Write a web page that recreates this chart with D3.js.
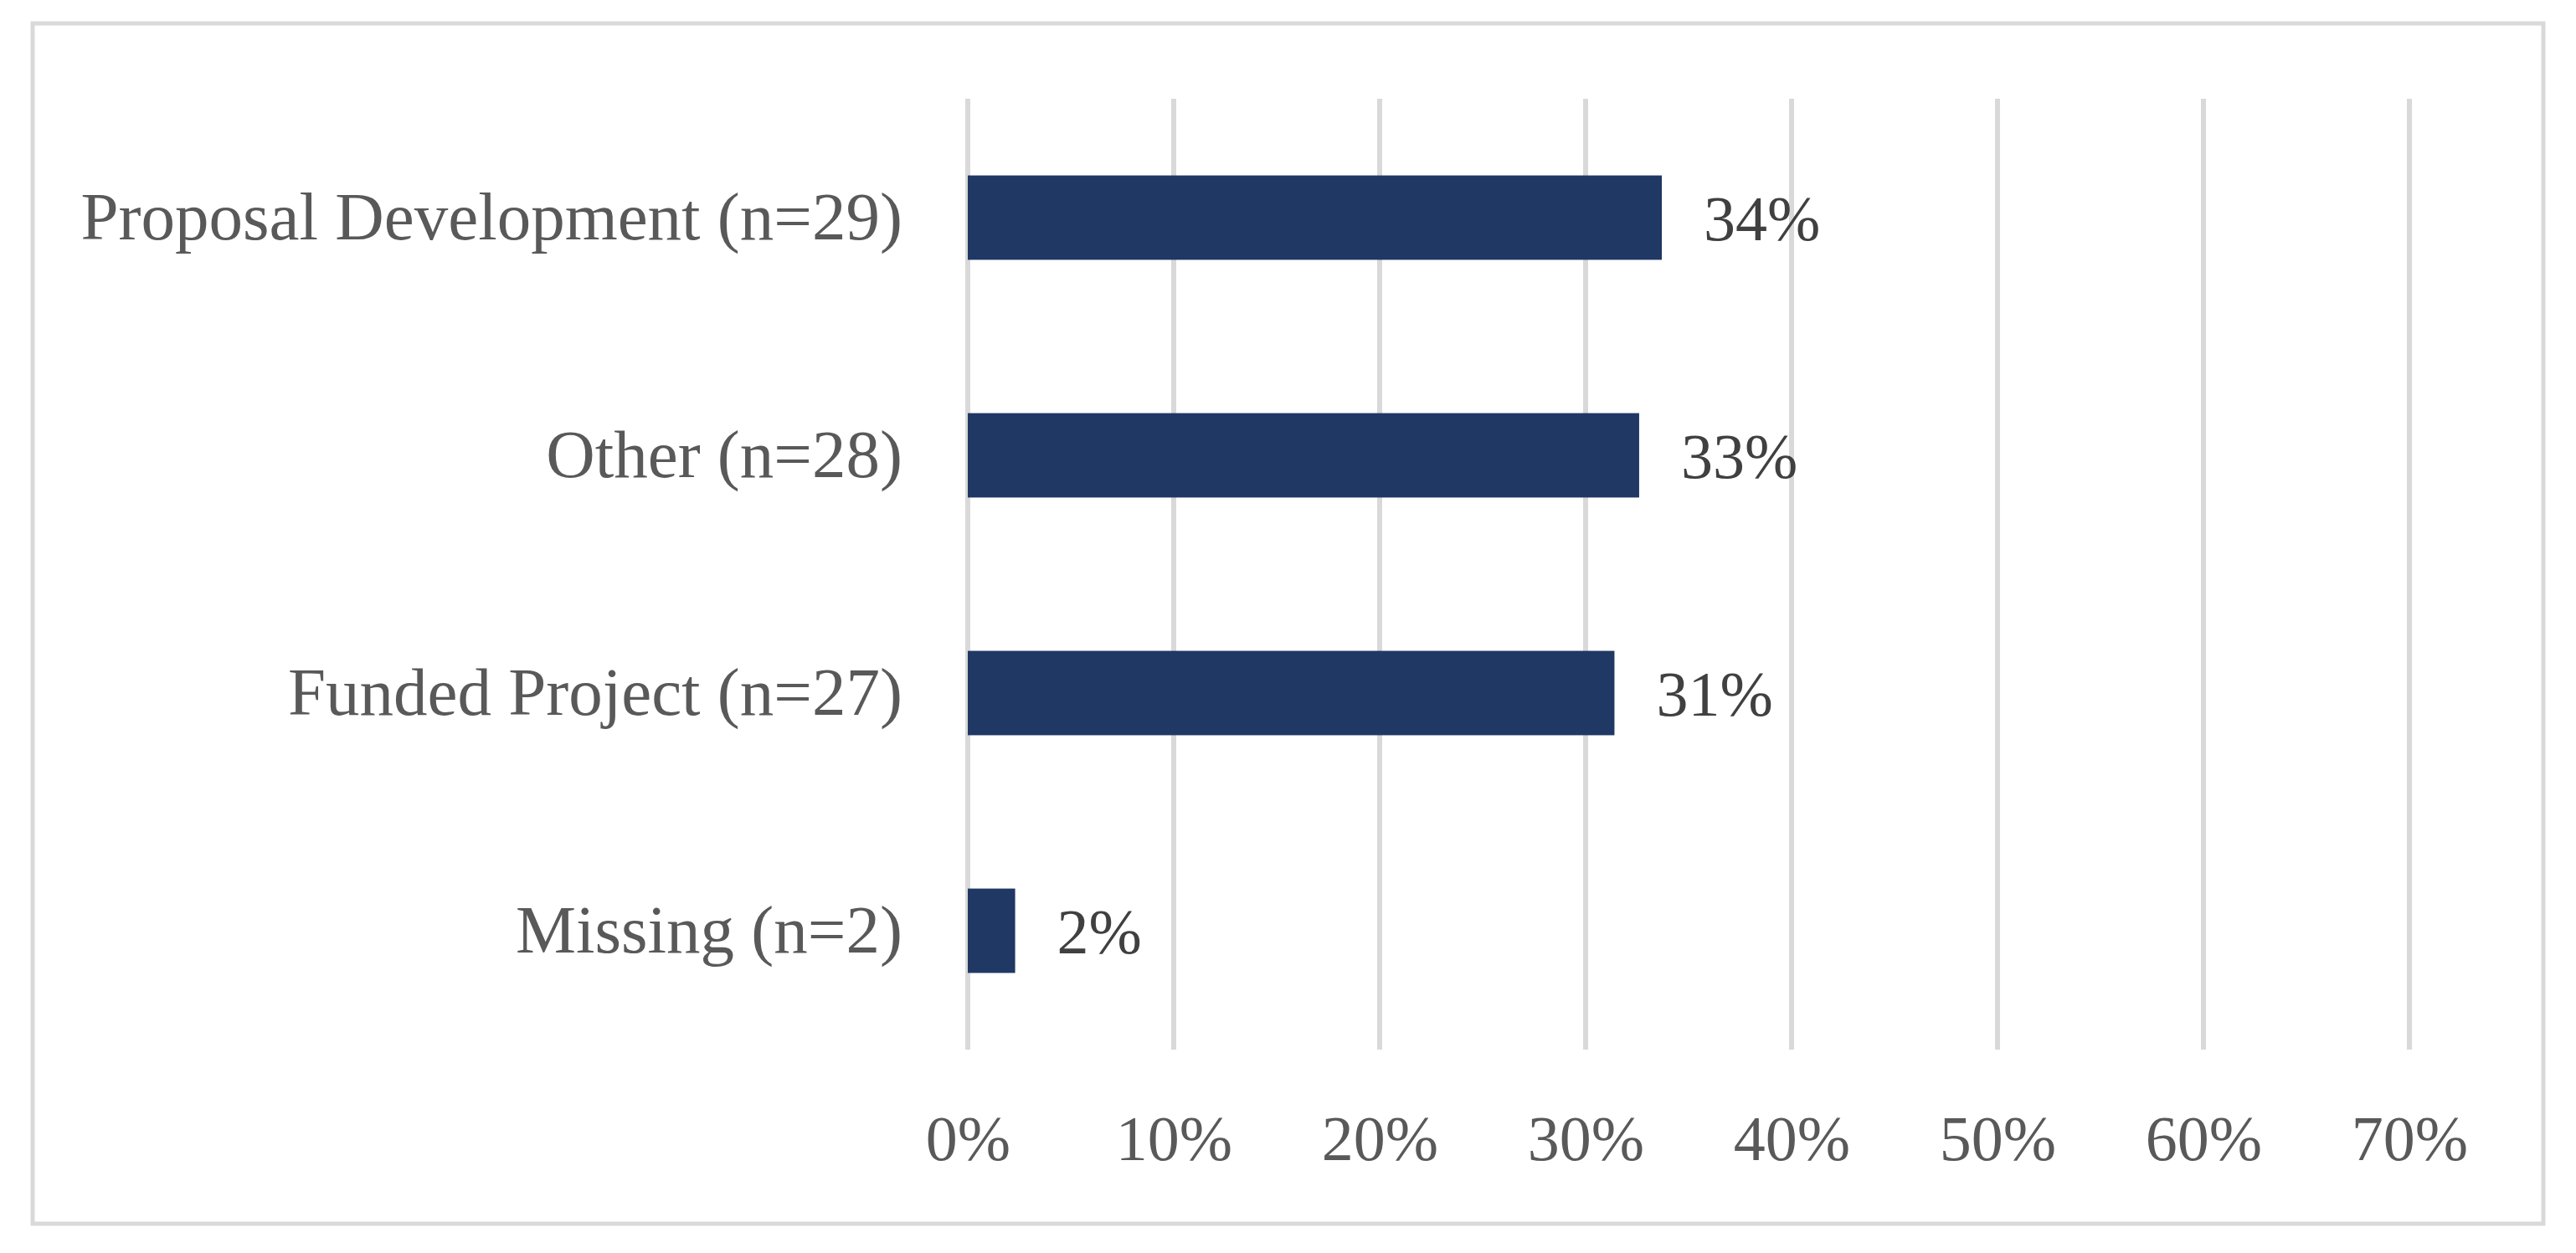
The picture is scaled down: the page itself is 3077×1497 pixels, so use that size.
<!DOCTYPE html>
<html>
<head>
<meta charset="utf-8">
<script src="https://cdn.jsdelivr.net/npm/d3@7"></script>
<style>
  body { margin: 0; background: #fff; }
  text { font-family: "Liberation Serif", "DejaVu Serif", serif; }
</style>
</head>
<body>
<svg width="3077" height="1497"></svg>
<script>
let categories = [
  "Proposal Development (n=29)",
  "Other (n=28)",
  "Funded Project (n=27)",
  "Missing (n=2)"
];
let values = [33.7, 32.6, 31.4, 2.3];
let valueLabels = ["34%", "33%", "31%", "2%"];
let ticks = [0, 10, 20, 30, 40, 50, 60, 70];

let svg = d3.select("svg");

// outer frame
svg.append("rect")
  .attr("x", 39)
  .attr("y", 28)
  .attr("width", 2999)
  .attr("height", 1434)
  .attr("fill", "#fff")
  .attr("stroke", "#d9d9d9")
  .attr("stroke-width", 5);

let xScale = d3.scaleLinear().domain([0, 70]).range([1156, 2878]);

let yScale = d3.scaleBand()
  .domain(categories)
  .range([118, 1254])
  .paddingInner(0.645)
  .paddingOuter(0.3225);

// gridlines
svg.append("g")
  .selectAll("line")
  .data(ticks)
  .enter()
  .append("line")
  .attr("x1", d => xScale(d))
  .attr("x2", d => xScale(d))
  .attr("y1", 118)
  .attr("y2", 1254)
  .attr("stroke", "#d9d9d9")
  .attr("stroke-width", 6);

// x axis labels
let xAxis = svg.append("g")
  .attr("transform", "translate(0, 1254)")
  .call(d3.axisBottom(xScale).tickValues(ticks).tickSize(0).tickPadding(0)
    .tickFormat(d => d + "%"));
xAxis.select(".domain").remove();
xAxis.selectAll("text")
  .attr("y", 132)
  .attr("dy", 0)
  .attr("fill", "#595959")
  .style("font-size", "76px")
  .style("font-family", "'Liberation Serif', serif");

// y axis labels
let yAxis = svg.append("g")
  .attr("transform", "translate(1078, 0)")
  .call(d3.axisLeft(yScale).tickSize(0).tickPadding(0));
yAxis.select(".domain").remove();
yAxis.selectAll("text")
  .attr("x", 0)
  .attr("dy", "0.32em")
  .attr("fill", "#595959")
  .style("font-size", "81px")
  .style("font-family", "'Liberation Serif', serif");

// bars
svg.append("g")
  .selectAll("rect")
  .data(values)
  .enter()
  .append("rect")
  .attr("x", xScale(0))
  .attr("y", (d, i) => yScale(categories[i]))
  .attr("width", d => xScale(d) - xScale(0))
  .attr("height", yScale.bandwidth())
  .attr("fill", "#203864");

// value labels
svg.append("g")
  .selectAll("text")
  .data(values)
  .enter()
  .append("text")
  .attr("x", d => xScale(d) + 50)
  .attr("y", (d, i) => yScale(categories[i]) + yScale.bandwidth() / 2)
  .attr("dy", "0.36em")
  .attr("fill", "#404040")
  .style("font-size", "76px")
  .text((d, i) => valueLabels[i]);
</script>
</body>
</html>
